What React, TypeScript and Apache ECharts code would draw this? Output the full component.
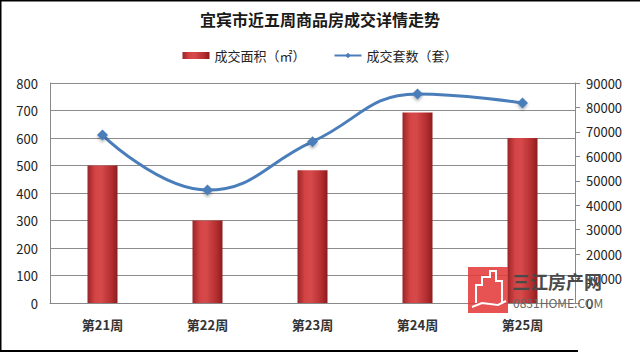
import React, { useEffect, useRef } from "react";
import * as echarts from "echarts";

const categories = ["第21周", "第22周", "第23周", "第24周", "第25周"];
const areaValues = [500, 300, 483, 693, 600];
const countValues = [68700, 46200, 66000, 85500, 81800];
const titleText = "宜宾市近五周商品房成交详情走势";
const areaName = "成交面积（㎡）";
const countName = "成交套数（套）";

const FONT = '"Noto Sans CJK SC", "Noto Sans", sans-serif';

export default function App() {
  const ref = useRef<HTMLDivElement>(null);
  useEffect(() => {
    if (!ref.current) return;
    const chart = echarts.init(ref.current, undefined, { renderer: "svg" });
    const barColor = new echarts.graphic.LinearGradient(0, 0, 1, 0, [
      { offset: 0, color: "#9a2426" },
      { offset: 0.25, color: "#d44445" },
      { offset: 0.45, color: "#d64a4b" },
      { offset: 0.8, color: "#b42e30" },
      { offset: 1, color: "#8c1c1e" },
    ]);
    chart.setOption({
      animation: false,
      backgroundColor: "#ffffff",
      textStyle: { fontFamily: FONT },
      title: {
        text: titleText,
        left: "center",
        top: 6,
        textStyle: { fontSize: 16, fontWeight: "bold", color: "#1a1a1a", fontFamily: FONT },
      },
      legend: {
        top: 44,
        left: "center",
        itemGap: 28,
        itemWidth: 27,
        itemHeight: 7,
        textStyle: { fontSize: 13, color: "#222", fontFamily: FONT },
        data: [
          { name: areaName, icon: "rect" },
          { name: countName },
        ],
      },
      grid: { left: 50, right: 65, top: 83, bottom: 49 },
      xAxis: {
        type: "category",
        data: categories,
        axisLine: { lineStyle: { color: "#888", width: 1 } },
        axisTick: { show: false },
        axisLabel: { fontSize: 13, color: "#333", fontWeight: "bold", margin: 15, fontFamily: FONT },
      },
      yAxis: [
        {
          type: "value",
          min: 0,
          max: 800,
          interval: 100,
          axisLine: { show: true, lineStyle: { color: "#888" } },
          axisTick: { show: false },
          splitLine: { lineStyle: { color: "#8c8c8c", width: 1 } },
          axisLabel: { fontSize: 13, color: "#222", margin: 12, fontFamily: FONT },
        },
        {
          type: "value",
          min: 0,
          max: 90000,
          interval: 10000,
          position: "right",
          axisLine: { show: true, lineStyle: { color: "#888" } },
          axisTick: { show: true, length: 5, lineStyle: { color: "#888" } },
          splitLine: { show: false },
          axisLabel: {
            fontSize: 13,
            color: "#222",
            margin: 11,
            fontFamily: FONT,
            formatter: (v: number) => String(v),
          },
        },
      ],
      series: [
        {
          name: areaName,
          type: "bar",
          data: areaValues,
          barWidth: 30,
          itemStyle: { color: barColor },
          yAxisIndex: 0,
          z: 2,
        },
        {
          name: countName,
          type: "line",
          yAxisIndex: 1,
          data: countValues,
          smooth: 0.45,
          symbol: "diamond",
          symbolSize: 11,
          lineStyle: { color: "#4a7ebb", width: 3 },
          itemStyle: {
            color: "#4a7ebb",
            shadowColor: "rgba(0,0,0,0.3)",
            shadowBlur: 3,
            shadowOffsetY: 2,
          },
          z: 3,
        },
      ],
      graphic: [
        { type: "line", shape: { x1: 0, y1: 0.5, x2: 640, y2: 0.5 }, style: { stroke: "#000", lineWidth: 2 }, z: 100 },
        { type: "line", shape: { x1: 0.5, y1: 0, x2: 0.5, y2: 352 }, style: { stroke: "#000", lineWidth: 2 }, z: 100 },
        { type: "line", shape: { x1: 0, y1: 351, x2: 578, y2: 351 }, style: { stroke: "#000", lineWidth: 2 }, z: 100 },
        { type: "rect", shape: { x: 468, y: 267, width: 40, height: 46 }, style: { fill: "rgba(228,58,58,0.88)" }, z: 50 },
        {
          type: "polyline",
          shape: { points: [[476, 303], [476, 285], [482, 285], [482, 277], [490, 277], [490, 271], [496, 271], [496, 281], [502, 281], [502, 303]] },
          style: { stroke: "#fff", fill: "none", lineWidth: 2 },
          z: 51,
        },
        {
          type: "polyline",
          shape: { points: [[472, 307], [482, 303], [498, 305], [506, 301]] },
          style: { stroke: "#fff", fill: "none", lineWidth: 2 },
          z: 51,
        },
        {
          type: "text",
          x: 512,
          y: 272,
          z: 52,
          style: {
            text: "三江房产网",
            fontSize: 18,
            fontWeight: "bold",
            fill: "#4a4a4a",
            fontFamily: FONT,
          },
        },
        {
          type: "text",
          x: 513,
          y: 296,
          z: 52,
          style: { text: "0831HOME.COM", fontSize: 12, fill: "#666", fontFamily: FONT },
        },
      ],
    });
    return () => chart.dispose();
  }, []);
  return (
    <div
      ref={ref}
      style={{ position: "absolute", left: 0, top: 0, width: 640, height: 352 }}
    />
  );
}
